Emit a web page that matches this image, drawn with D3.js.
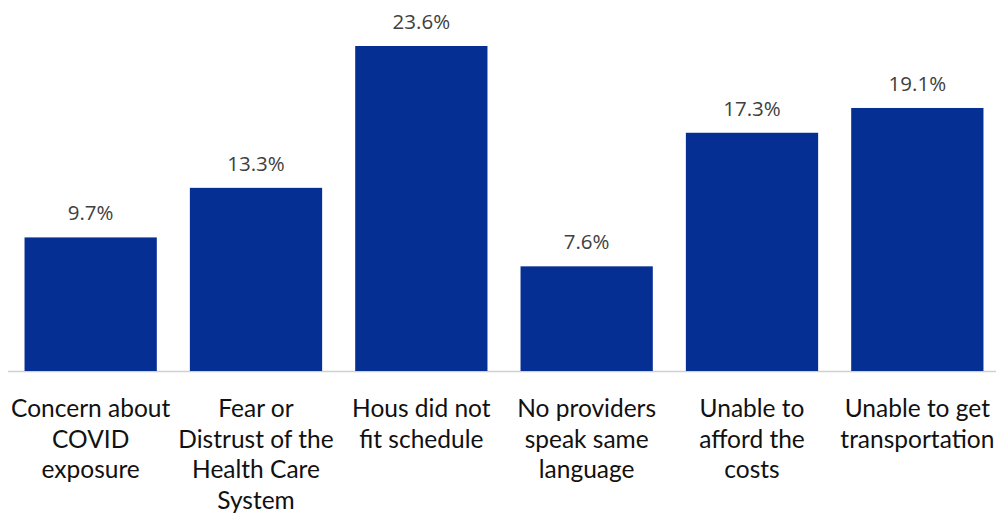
<!DOCTYPE html>
<html>
<head>
<meta charset="utf-8">
<script src="https://cdn.jsdelivr.net/npm/d3@7/dist/d3.min.js"></script>
<style>
  html, body { margin: 0; padding: 0; background: #fff; }
  svg { display: block; }
</style>
</head>
<body>
<svg id="chart" width="996" height="517"></svg>
<script>
// Reasons for missed care: share of respondents
const categories = [
  ["Concern about", "COVID", "exposure"],
  ["Fear or", "Distrust of the", "Health Care", "System"],
  ["Hous did not", "fit schedule"],
  ["No providers", "speak same", "language"],
  ["Unable to", "afford the", "costs"],
  ["Unable to get", "transportation"]
];
const values = [9.7, 13.3, 23.6, 7.6, 17.3, 19.1];

const width = 996, height = 517;
const baseY = 371, topY = 46;

const svg = d3.select("#chart");

const x = d3.scaleBand()
  .domain(d3.range(values.length))
  .range([8, 1000])
  .paddingInner(0.2)
  .paddingOuter(0.1);

const y = d3.scaleLinear()
  .domain([0, 23.6])
  .range([baseY, topY]);

// baseline
svg.append("line")
  .attr("x1", 8).attr("x2", width)
  .attr("y1", baseY + 0.5).attr("y2", baseY + 0.5)
  .attr("stroke", "#d0d0d0").attr("stroke-width", 1.5);

// bars
svg.selectAll("rect.bar")
  .data(values)
  .join("rect")
  .attr("class", "bar")
  .attr("x", (d, i) => x(i))
  .attr("width", x.bandwidth())
  .attr("y", d => y(d))
  .attr("height", d => baseY - y(d))
  .attr("fill", "#062f94");

// value labels
svg.selectAll("text.val")
  .data(values)
  .join("text")
  .attr("class", "val")
  .attr("x", (d, i) => x(i) + x.bandwidth() / 2)
  .attr("y", d => y(d) - 17)
  .attr("text-anchor", "middle")
  .attr("font-family", "'Open Sans', sans-serif")
  .attr("font-size", 20.5)
  .attr("fill", "#404040")
  .text(d => d.toFixed(1) + "%");

// category labels
const cat = svg.selectAll("text.cat")
  .data(categories)
  .join("text")
  .attr("class", "cat")
  .attr("x", (d, i) => x(i) + x.bandwidth() / 2)
  .attr("y", 417)
  .attr("text-anchor", "middle")
  .attr("font-family", "Lato, 'Open Sans', sans-serif")
  .attr("font-size", 24.5)
  .attr("fill", "#111");

cat.selectAll("tspan")
  .data(d => d)
  .join("tspan")
  .attr("x", function () { return d3.select(this.parentNode).attr("x"); })
  .attr("dy", (d, i) => i === 0 ? 0 : 30.5)
  .text(d => d);
</script>
</body>
</html>
